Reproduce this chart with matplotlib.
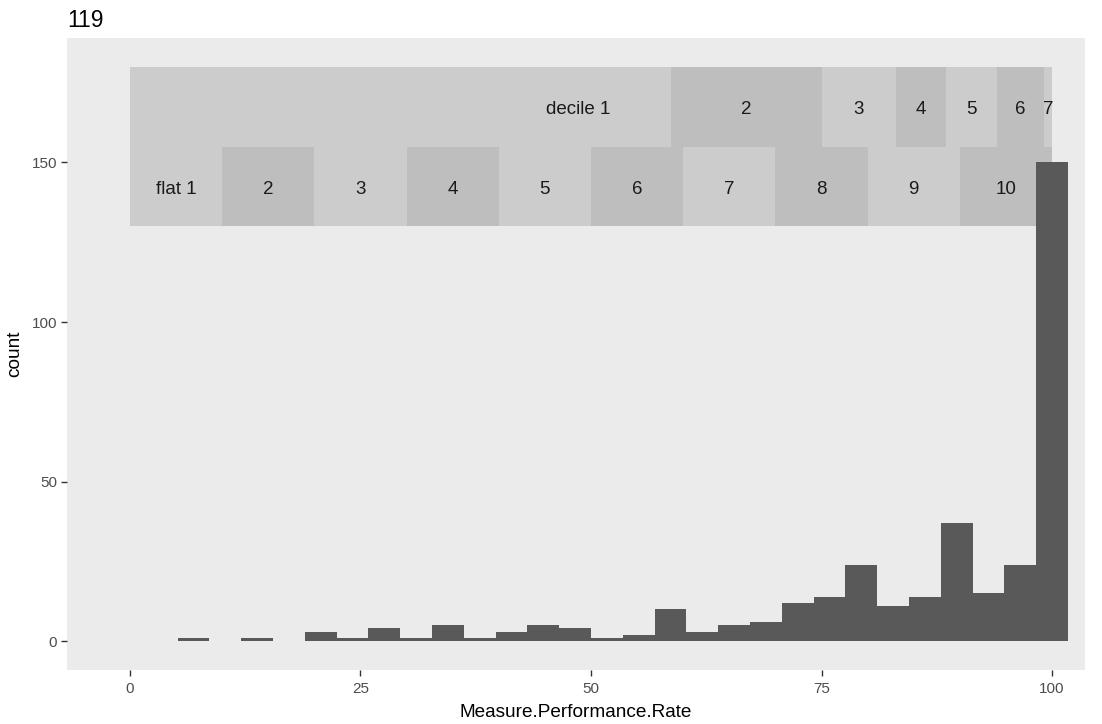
import numpy as np
import matplotlib.pyplot as plt

plt.rcParams['font.family'] = ['Liberation Sans', 'DejaVu Sans']

# histogram: 30 bins of width 100/29, centred on 0 .. 100
bin_centers = np.arange(30) * 100 / 29
counts = [0, 0, 1, 0, 1, 0, 3, 1, 4, 1, 5, 1, 3, 5, 4, 1, 2, 10, 3, 5,
          6, 12, 14, 24, 11, 14, 37, 15, 24, 150]

# upper band: decile break points of the data
decile_edges = [0, 58.66, 75.0, 83.08, 88.48, 94.0, 99.1, 100]
decile_labels = ["decile 1", "2", "3", "4", "5", "6", "7"]
decile1_text_x = 48.6   # first label is not at the middle of its box

# lower band: flat 10-point steps
flat_edges = [0, 10, 20, 30, 40, 50, 60, 70, 80, 90, 100]
flat_labels = ["flat 1", "2", "3", "4", "5", "6", "7", "8", "9", "10"]

light, dark = "#CCCCCC", "#BEBEBE"


def draw_band(ax, edges, labels, y0, y1, first_x=None):
    for i, lab in enumerate(labels):
        a, b = edges[i], edges[i + 1]
        ax.fill_between([a, b], y0, y1, color=light if i % 2 == 0 else dark,
                        linewidth=0, zorder=1)
        x = (a + b) / 2
        if i == 0 and first_x is not None:
            x = first_x
        ax.text(x, (y0 + y1) / 2 - 1, lab, ha="center", va="center",
                fontsize=13.5, color="#1A1A1A", zorder=2)


def main():
    fig = plt.figure(figsize=(11.02, 7.24), dpi=100)
    ax = fig.add_axes([0.0608, 0.0746, 0.9238, 0.8729])
    ax.set_facecolor("#EBEBEB")

    draw_band(ax, decile_edges, decile_labels, 155, 180, decile1_text_x)
    draw_band(ax, flat_edges, flat_labels, 130, 155)

    w = 100 / 29
    ax.bar(bin_centers, counts, width=w, color="#595959", linewidth=0, zorder=3)

    ax.set_xlim(-6.83, 103.58)
    ax.set_ylim(-9, 189)
    ax.set_xticks([0, 25, 50, 75, 100])
    ax.set_yticks([0, 50, 100, 150])
    ax.tick_params(colors="#333333", labelcolor="#4D4D4D", labelsize=11,
                   length=4, width=1, pad=3)
    ax.tick_params(axis="x", pad=4.5)
    for s in ax.spines.values():
        s.set_visible(False)

    ax.set_xlabel("Measure.Performance.Rate", fontsize=13.7, labelpad=6)
    ax.set_ylabel("count", fontsize=13.7, labelpad=6)
    ax.set_title("119", loc="left", fontsize=16.5, pad=8)

    fig.savefig("out.png", dpi=100)


if __name__ == "__main__":
    main()
